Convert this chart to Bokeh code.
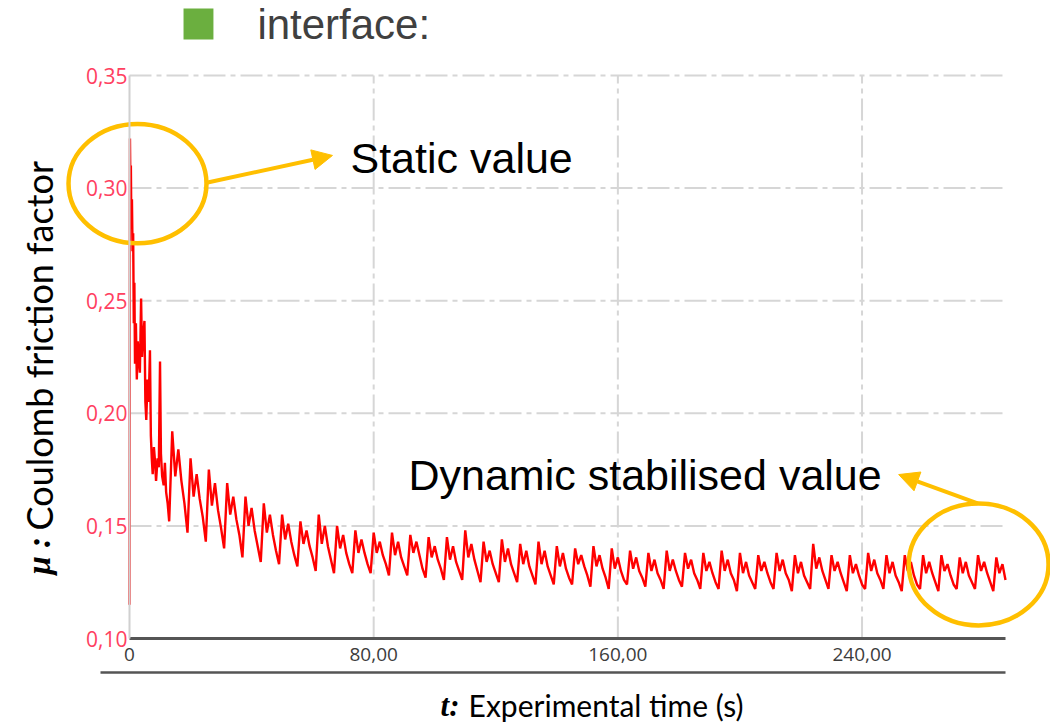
import numpy as np
from bokeh.plotting import figure
from bokeh.models import Range1d, FixedTicker, Label, Arrow, NormalHead
from bokeh.embed import file_html
from bokeh.resources import INLINE

# ---------------- data ----------------
t_early = [0.0, 0.15, 0.3, 0.45, 0.6, 0.8, 1.0, 1.2, 1.4, 1.6, 1.8, 2.1, 2.4, 2.7,
           3.0, 3.4, 3.8, 4.1, 4.5, 4.9, 5.2, 5.5, 5.9, 6.3, 6.7, 7.0, 7.3, 7.6,
           8.0, 8.4, 8.7, 9.2, 9.6, 10.0, 10.3, 10.7, 11.2, 11.6, 12.0, 12.5]
mu_early = [0.115, 0.322, 0.300, 0.310, 0.285, 0.295, 0.272, 0.280, 0.240, 0.258,
            0.222, 0.240, 0.215, 0.232, 0.225, 0.218, 0.251, 0.225, 0.235, 0.241,
            0.205, 0.197, 0.215, 0.205, 0.228, 0.190, 0.180, 0.173, 0.185, 0.178,
            0.170, 0.180, 0.176, 0.223, 0.182, 0.172, 0.168, 0.178, 0.165, 0.160]

t_late = list(range(13, 288))  # sample times, one per second
mu_late = [
    0.152, 0.192, 0.172, 0.184, 0.170, 0.160,
    0.147, 0.180, 0.163, 0.173, 0.162, 0.154,
    0.143, 0.175, 0.159, 0.169, 0.157, 0.149,
    0.140, 0.169, 0.155, 0.163, 0.153, 0.146,
    0.136, 0.163, 0.150, 0.158, 0.148, 0.141,
    0.134, 0.160, 0.147, 0.155, 0.146, 0.139,
    0.133, 0.155, 0.144, 0.151, 0.143, 0.137,
    0.132, 0.152, 0.142, 0.148, 0.141, 0.136,
    0.130, 0.155, 0.142, 0.150, 0.141, 0.135,
    0.129, 0.150, 0.140, 0.146, 0.138, 0.133,
    0.129, 0.148, 0.138, 0.144, 0.138, 0.133,
    0.129, 0.147, 0.138, 0.143, 0.137, 0.133,
    0.128, 0.147, 0.137, 0.143, 0.136, 0.132,
    0.128, 0.146, 0.138, 0.143, 0.137, 0.131,
    0.127, 0.145, 0.136, 0.141, 0.135, 0.131,
    0.126, 0.145, 0.135, 0.141, 0.134, 0.130,
    0.126, 0.148, 0.136, 0.142, 0.135, 0.130,
    0.125, 0.143, 0.134, 0.139, 0.133, 0.129,
    0.125, 0.144, 0.134, 0.140, 0.133, 0.129,
    0.125, 0.142, 0.133, 0.139, 0.132, 0.128,
    0.124, 0.143, 0.133, 0.139, 0.132, 0.128,
    0.124, 0.141, 0.132, 0.138, 0.131, 0.127,
    0.124, 0.140, 0.133, 0.137, 0.132, 0.128,
    0.123, 0.141, 0.132, 0.137, 0.131, 0.127,
    0.122, 0.140, 0.131, 0.136, 0.130, 0.126,
    0.124, 0.139, 0.131, 0.136, 0.130, 0.127,
    0.123, 0.138, 0.130, 0.135, 0.129, 0.126,
    0.122, 0.139, 0.130, 0.135, 0.130, 0.126,
    0.123, 0.138, 0.131, 0.135, 0.129, 0.126,
    0.122, 0.138, 0.130, 0.134, 0.129, 0.125,
    0.122, 0.139, 0.130, 0.135, 0.129, 0.126,
    0.121, 0.138, 0.129, 0.134, 0.128, 0.125,
    0.122, 0.137, 0.130, 0.134, 0.129, 0.125,
    0.122, 0.138, 0.130, 0.135, 0.129, 0.126,
    0.121, 0.137, 0.129, 0.134, 0.128, 0.125,
    0.122, 0.142, 0.131, 0.136, 0.130, 0.126,
    0.122, 0.137, 0.130, 0.134, 0.129, 0.125,
    0.121, 0.137, 0.129, 0.133, 0.128, 0.124,
    0.122, 0.138, 0.130, 0.135, 0.129, 0.126,
    0.122, 0.137, 0.129, 0.134, 0.128, 0.125,
    0.121, 0.137, 0.130, 0.134, 0.128, 0.124,
    0.122, 0.137, 0.129, 0.134, 0.129, 0.125,
    0.121, 0.137, 0.130, 0.133, 0.128, 0.124,
    0.122, 0.136, 0.129, 0.134, 0.128, 0.125,
    0.122, 0.137, 0.130, 0.134, 0.129, 0.125,
    0.121, 0.136, 0.129, 0.133, 0.126,
]

x_ticks = [0, 80, 160, 240]
x_tick_labels = ["0", "80,00", "160,00", "240,00"]
y_ticks = [0.10, 0.15, 0.20, 0.25, 0.30, 0.35]
y_tick_labels = ["0,10", "0,15", "0,20", "0,25", "0,30", "0,35"]

t = t_early + t_late
mu = mu_early + mu_late
assert len(t) == len(mu)

T_MIN, T_MAX = 0, 287          # extent of the time axis
MU_MIN, MU_MAX = 0.10, 0.35    # extent of the friction axis

ORANGE = "#FFBF00"
W, H = 1050, 725
# the frame fills the canvas; plot area sits at x 129..1005, y 75..638
px_per_t = (1005 - 129) / (T_MAX - T_MIN)
px_per_mu = (638 - 75) / (MU_MAX - MU_MIN)
x_range = Range1d(T_MIN - 129 / px_per_t, T_MAX + (W - 1005) / px_per_t)
y_range = Range1d(MU_MIN - (H - 638) / px_per_mu, MU_MAX + 75 / px_per_mu)

p = figure(width=W, height=H, x_range=x_range, y_range=y_range,
           output_backend="svg", toolbar_location=None, title=None, min_border=0)
p.outline_line_color = None
p.background_fill_color = "white"
p.border_fill_color = "white"
p.grid.visible = False

# dashed grid, inside the plot area only
gx = x_ticks[1:]
p.segment(x0=gx, y0=[MU_MIN] * len(gx), x1=gx, y1=[MU_MAX] * len(gx),
          line_color="#d6d6d6", line_width=2, line_dash="22 5 5 5")
gy = y_ticks[1:]
p.segment(x0=[T_MIN] * len(gy), y0=gy, x1=[T_MAX] * len(gy), y1=gy,
          line_color="#d6d6d6", line_width=2, line_dash="22 5 5 5")

p.line(t, mu, line_color="#ff0000", line_width=2.4)

# axes at fixed data positions
xa = p.xaxis[0]
xa.fixed_location = MU_MIN
xa.bounds = (T_MIN, T_MAX)
xa.ticker = FixedTicker(ticks=x_ticks)
xa.major_label_overrides = dict(zip(x_ticks, x_tick_labels))
xa.axis_line_color = "#555555"
xa.axis_line_width = 3
xa.major_tick_line_color = None
xa.minor_tick_line_color = None
xa.major_tick_out = 0
xa.major_tick_in = 0
xa.major_label_text_color = "#3c3c3c"
xa.major_label_text_font = "Open Sans"
xa.major_label_text_font_size = "19px"
xa.major_label_standoff = 9

ya = p.yaxis[0]
ya.fixed_location = T_MIN
ya.bounds = (MU_MIN, MU_MAX)
ya.ticker = FixedTicker(ticks=y_ticks)
ya.major_label_overrides = dict(zip(y_ticks, y_tick_labels))
ya.axis_line_color = "#d0d0d0"
ya.axis_line_width = 2
ya.major_tick_line_color = None
ya.minor_tick_line_color = None
ya.major_tick_out = 0
ya.major_tick_in = 0
ya.major_label_text_color = "#ff4060"
ya.major_label_text_font = "Open Sans"
ya.major_label_text_font_size = "21px"
ya.major_label_standoff = 2

# second rule under the time tick labels
p.segment(x0=[-9.5], y0=[0.0849], x1=[T_MAX], y1=[0.0849], line_color="#555555", line_width=2.5)

# header
p.quad(left=[17.7], right=[27.5], bottom=[0.366], top=[0.3797],
       fill_color="#6BAF3F", line_color=None)
p.add_layout(Label(x=41.9, y=0.3727, text="interface:", text_font="Liberation Sans",
                   text_font_size="42px", text_color="#404040", text_baseline="alphabetic"))

# ellipses
p.ellipse(x=[2.62, 278.2], y=[0.302, 0.1329], width=[45.2, 45.8], height=[0.053, 0.0542],
          fill_color=None, line_color=ORANGE, line_width=4.5)

# arrows
p.add_layout(Arrow(end=NormalHead(size=20, fill_color=ORANGE, line_color=ORANGE),
                   x_start=25.6, y_start=0.3025, x_end=66.5, y_end=0.3145,
                   line_color=ORANGE, line_width=4))
p.add_layout(Arrow(end=NormalHead(size=20, fill_color=ORANGE, line_color=ORANGE),
                   x_start=277.9, y_start=0.160, x_end=252.0, y_end=0.1728,
                   line_color=ORANGE, line_width=4))

# annotation texts
p.add_layout(Label(x=72.4, y=0.3134, text="Static value", text_font="Liberation Sans",
                   text_font_size="43px", text_color="black", text_baseline="alphabetic"))
p.add_layout(Label(x=91.4, y=0.1726, text="Dynamic stabilised value", text_font="Liberation Sans",
                   text_font_size="43px", text_color="black", text_baseline="alphabetic"))

# axis titles
p.add_layout(Label(x=-29.8, y=0.1284, text="\u03bc :", angle=90, angle_units="deg",
                   text_font="Liberation Serif", text_font_style="bold italic",
                   text_font_size="33px", text_color="black",
                   text_align="left", text_baseline="middle"))
p.add_layout(Label(x=-29.8, y=0.148, text="Coulomb friction factor", angle=90, angle_units="deg",
                   text_font="Lato", text_font_size="36px", text_color="black",
                   text_align="left", text_baseline="middle"))
p.add_layout(Label(x=101.9, y=0.07025, text="t:", text_font="Liberation Serif",
                   text_font_style="bold italic", text_font_size="31px", text_color="black",
                   text_baseline="alphabetic"))
p.add_layout(Label(x=111.1, y=0.07025, text="Experimental time (s)", text_font="Lato",
                   text_font_size="30px", text_color="black", text_baseline="alphabetic"))

open("out.html", "w").write(file_html(p, INLINE))
